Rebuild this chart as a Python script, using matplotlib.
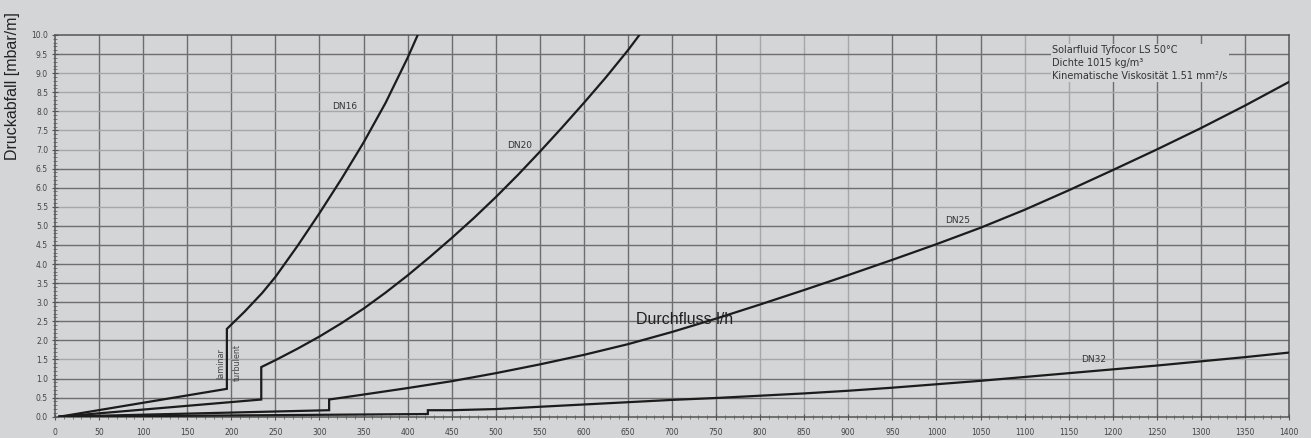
import numpy as np
import matplotlib
matplotlib.use("Agg")
import matplotlib.pyplot as plt
from matplotlib.ticker import MultipleLocator, FormatStrFormatter

# Druckverlust-Kennlinien (Durchfluss l/h -> Druckabfall mbar/m)
flow_dn16 = [5, 195, 195, 215, 235, 250, 275, 300, 325, 350, 375, 400, 411.5]
dp_dn16 = [0.0, 0.73, 2.30, 2.75, 3.24, 3.66, 4.47, 5.33, 6.23, 7.18, 8.22,
           9.40, 10.0]

flow_dn20 = [5, 234, 234, 250, 275, 300, 325, 350, 375, 400, 425, 450, 475, 500,
             525, 550, 575, 600, 625, 650, 663]
dp_dn20 = [0.0, 0.45, 1.30, 1.48, 1.78, 2.10, 2.45, 2.83, 3.25, 3.70, 4.18, 4.68,
           5.20, 5.75, 6.33, 6.94, 7.57, 8.22, 8.89, 9.60, 10.0]

flow_dn25 = [5, 311, 311, 350, 400, 450, 500, 550, 600, 650, 700, 750, 800, 850,
             900, 950, 1000, 1050, 1100, 1150, 1200, 1250, 1300, 1350, 1400]
dp_dn25 = [0.0, 0.17, 0.45, 0.58, 0.75, 0.93, 1.14, 1.37, 1.62, 1.90, 2.22, 2.57,
           2.94, 3.32, 3.71, 4.11, 4.52, 4.95, 5.42, 5.93, 6.46, 7.00, 7.56, 8.15,
           8.77]

flow_dn32 = [5, 423, 423, 450, 500, 550, 600, 650, 700, 750, 800, 850, 900, 950,
             1000, 1050, 1100, 1150, 1200, 1250, 1300, 1350, 1400]
dp_dn32 = [0.0, 0.07, 0.17, 0.17, 0.20, 0.26, 0.32, 0.38, 0.44, 0.49, 0.55, 0.61,
           0.68, 0.76, 0.85, 0.94, 1.04, 1.14, 1.24, 1.34, 1.45, 1.56, 1.68]

curve_names = ["DN16", "DN20", "DN25", "DN32"]
name_x = [329, 527, 1024, 1178]
name_y = [8.13, 7.10, 5.14, 1.50]

fluid_info = ("Solarfluid Tyfocor LS 50\u00b0C\n"
              "Dichte 1015 kg/m\u00b3\n"
              "Kinematische Viskosit\u00e4t 1.51 mm\u00b2/s")

bg = "#d4d5d7"
ink = "#1c1c1c"
grid_dark = "#6e6e6e"
grid_light = "#a6a7a9"

fig = plt.figure(figsize=(13.11, 4.38), dpi=100)
fig.patch.set_facecolor(bg)
ax = fig.add_axes([55 / 1311, 1 - 416.7 / 438, 1234 / 1311, 381.7 / 438])
ax.set_facecolor(bg)
ax.set_xlim(0, 1400)
ax.set_ylim(0, 10)

# grid: every 50 l/h and every 0.5 mbar/m, a few lines rendered lighter
light_x = {800, 850, 900, 1100, 1150}
light_y = {1.5, 5.5, 7.0, 7.5, 8.0, 8.5, 9.0}
for xv in np.arange(50, 1400, 50):
    ax.axvline(xv, color=grid_light if xv in light_x else grid_dark,
               lw=1.0, zorder=1)
for yv in np.arange(0.5, 10, 0.5):
    ax.axhline(yv, color=grid_light if yv in light_y else grid_dark,
               lw=1.0, zorder=1)

for fx, dp in [(flow_dn16, dp_dn16), (flow_dn20, dp_dn20),
               (flow_dn25, dp_dn25), (flow_dn32, dp_dn32)]:
    ax.plot(fx, dp, color=ink, lw=1.6, zorder=4, solid_joinstyle="miter")

for name, xv, yv in zip(curve_names, name_x, name_y):
    ax.text(xv, yv, name, fontsize=6.5, color="#333333", ha="center",
            va="center", zorder=5)

ax.text(188, 1.4, "laminar", fontsize=5.8, color="#444444", rotation=90,
        ha="center", va="center", zorder=5)
ax.text(207, 1.42, "turbulent", fontsize=5.8, color="#444444", rotation=90,
        ha="center", va="center", zorder=5)

ax.text(1131, 9.26, fluid_info, fontsize=7, color="#333333", ha="left",
        va="center", linespacing=1.35, zorder=3,
        bbox=dict(facecolor=bg, edgecolor="none", pad=1.0))

ax.text(714, 2.54, "Durchfluss l/h", fontsize=11.5, color="#222222",
        family="Liberation Sans", ha="center", va="center", zorder=6)
fig.text(13 / 1311, 1 - 86 / 438, "Druckabfall [mbar/m]", fontsize=11.5,
         color="#222222", family="Liberation Sans", rotation=90,
         ha="center", va="center")

ax.xaxis.set_major_locator(MultipleLocator(50))
ax.xaxis.set_minor_locator(MultipleLocator(10))
ax.yaxis.set_major_locator(MultipleLocator(0.5))
ax.yaxis.set_minor_locator(MultipleLocator(0.1))
ax.yaxis.set_major_formatter(FormatStrFormatter("%.1f"))
ax.tick_params(which="major", direction="inout", length=4, width=0.8,
               color="#555555", labelsize=5.5, labelcolor="#444444")
ax.tick_params(which="minor", direction="inout", length=2.5, width=0.6,
               color="#666666")
ax.tick_params(axis="x", which="major", pad=6)
ax.tick_params(axis="y", which="major", pad=3)

for sp in ax.spines.values():
    sp.set_color("#555555")
    sp.set_linewidth(1.1)

fig.savefig("out.png", dpi=100, facecolor=bg)
